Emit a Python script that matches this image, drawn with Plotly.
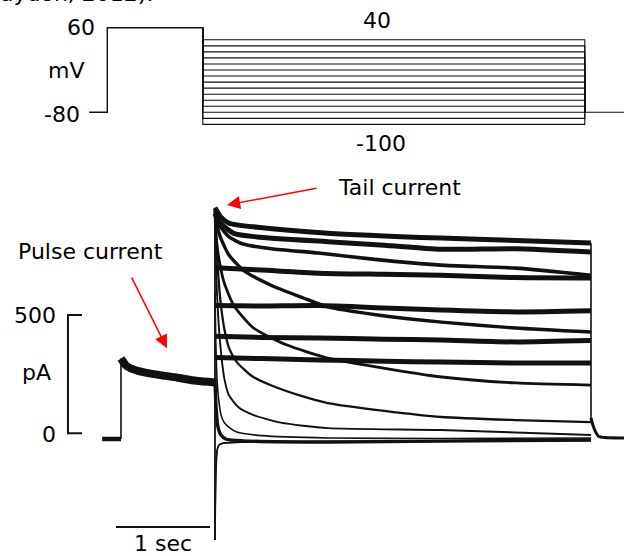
import plotly.graph_objects as go

# ---------------- data ----------------
# voltage protocol (top): prepulse then 15 test steps
step_voltages = [40, 30, 20, 10, 0, -10, -20, -30, -40, -50, -60, -70, -80, -90, -100]
hold_v = -80
prepulse_v = 60
t_hold_start = -0.19
t_pulse_on = 0.0
t_pulse_off = 1.0
t_step_off = 5.0
t_end = 5.5

# current (bottom): holding current before the pulse, then pulse current
hold_t = [-0.2, 0.0]
hold_i = [-24, -24]
pulse_t = [0.0, 0.01, 0.05, 0.1, 0.2, 0.35, 0.6, 0.8, 1.0]
pulse_i = [316, 310, 288, 275, 262, 250, 235, 222, 215]

# tail currents (noisy, sustained)
noisy_t = [
    [1.0, 1.06, 1.15, 1.45, 2.2, 3.4, 4.2, 5.0],
    [1.0, 1.04, 1.2, 1.45, 2.2, 2.8, 3.4, 4.2, 5.0],
    [1.0, 1.5, 2.1, 2.8, 3.4, 4.2, 5.0],
    [1.0, 1.5, 2.1, 2.8, 3.4, 4.2, 5.0],
    [1.0, 1.5, 2.1, 2.8, 3.4, 4.2, 5.0],
    [1.0, 1.5, 2.1, 2.8, 3.4, 4.2, 5.0],
]
noisy_i = [
    [953, 915, 888, 871, 846, 825, 815, 804],
    [930, 895, 845, 830, 810, 795, 778, 780, 766],
    [700, 690, 677, 672, 668, 658, 656],
    [540, 538, 540, 530, 521, 513, 518],
    [410, 405, 403, 398, 394, 386, 392],
    [320, 316, 310, 305, 301, 297, 297],
]

# tail currents (deactivating)
decay_t = [
    [1.0, 1.05, 1.15, 1.3, 1.6, 2.1, 2.7, 3.4, 4.2, 5.0],
    [1.0, 1.04, 1.1, 1.15, 1.3, 1.59, 1.94, 2.2, 2.73, 3.41, 4.2, 5.0],
    [1.0, 1.02, 1.05, 1.095, 1.2, 1.41, 1.76, 2.2, 2.73, 3.41, 4.2, 5.0],
    [1.0, 1.02, 1.04, 1.063, 1.1, 1.15, 1.232, 1.4, 1.589, 1.9, 2.2, 2.8, 3.41, 4.2, 5.0],
    [1.0, 1.01, 1.025, 1.042, 1.07, 1.1, 1.147, 1.25, 1.41, 1.7, 2.2, 3.4, 5.0],
    [1.0, 1.008, 1.021, 1.04, 1.063, 1.095, 1.15, 1.232, 1.5, 2.2, 3.4, 5.0],
    [1.0, 1.01, 1.03, 1.063, 1.12, 1.3, 2.2, 3.4, 5.0],
    [1.0, 1.005, 1.012, 1.024, 1.042, 1.08, 1.147, 1.3, 2.2, 3.4, 5.0],
    [1.0, 1.006, 1.015, 1.03, 1.06, 1.15, 1.3, 2.2, 3.4, 5.0],
]
decay_i = [
    [945, 880, 830, 800, 780, 762, 735, 711, 698, 668],
    [940, 850, 790, 753, 690, 627, 572, 534, 500, 470, 445, 428],
    [930, 800, 720, 640, 540, 445, 374, 318, 280, 238, 213, 204],
    [900, 760, 640, 542, 440, 360, 301, 240, 204, 160, 128, 95, 69, 56, 47],
    [860, 700, 560, 445, 320, 230, 162, 110, 77, 45, 22, 14, -7],
    [600, 400, 234, 140, 80, 47, 25, 5, -10, -20, -22, -20],
    [230, 120, 30, -7, -25, -32, -37, -33, -28],
    [-451, -300, -150, -70, -48, -43, -40, -38, -37, -33, -30],
    [-380, -200, -100, -60, -45, -40, -37, -35, -32, -28],
]
decay_w = [3.6, 3.4, 2.8, 2.3, 1.9, 1.6, 3.4, 1.5, 1.5]

# after the test step (return to holding)
return_t = [5.0, 5.02, 5.05, 5.08, 5.15, 5.35, 5.5]
return_i = [65, 35, 5, -12, -18, -20, -20]

# scale bars
bar_current = 500   # pA
bar_time = 1.0      # s

# ---------------- figure ----------------
ink = "#111111"
fig = go.Figure()


def line(x, y, w, ax="x2", ay="y2", spline=False):
    ln = dict(color=ink, width=w)
    if spline:
        ln.update(shape="spline", smoothing=0.6)
    fig.add_trace(go.Scatter(x=x, y=y, mode="lines", line=ln, xaxis=ax, yaxis=ay,
                             hoverinfo="skip"))


# top: voltage protocol
line([t_hold_start, t_pulse_on, t_pulse_on, t_pulse_off],
     [hold_v, hold_v, prepulse_v, prepulse_v], 1.4, "x", "y")
for v in step_voltages:
    line([t_pulse_off, t_pulse_off, t_step_off, t_step_off],
         [prepulse_v, v, v, hold_v], 1.1, "x", "y")
line([t_step_off, t_end], [hold_v, hold_v], 1.1, "x", "y")

# bottom: currents
line(hold_t, hold_i, 4.5)
line([hold_t[-1], pulse_t[0]], [hold_i[-1], pulse_i[0]], 1.6)
line(pulse_t, pulse_i, 8, spline=True)

# capacitive transient at the step onset
all_start = [s[0] for s in noisy_i] + [s[0] for s in decay_i] + [pulse_i[-1]]
line([t_pulse_off, t_pulse_off], [min(all_start), max(all_start)], 1.8)
for tt, ii in zip(noisy_t, noisy_i):
    line(tt, ii, 5.0, spline=True)
for tt, ii, w in zip(decay_t, decay_i, decay_w):
    line(tt, ii, w, spline=True)

# drop at end of test step
end_vals = [s[-1] for s in noisy_i] + [s[-1] for s in decay_i]
line([t_step_off, t_step_off], [max(end_vals), return_i[0]], 1.6)
line(return_t, return_i, 3.0, spline=True)

# scale bars
bx, tick = -0.564, 0.149
line([bx + tick, bx, bx, bx + tick], [bar_current, bar_current, 0, 0], 2)
tb0, tby = -0.053, -396
line([tb0, tb0 + bar_time], [tby, tby], 2)

font = dict(family="DejaVu Sans", size=22, color="#000000")
ann = [
    # top labels
    dict(x=-0.11, y=60, xref="x", yref="y", text="60", xanchor="right", yanchor="middle"),
    dict(x=-0.43, y=-10, xref="x", yref="y", text="mV", xanchor="center", yanchor="middle"),
    dict(x=-0.27, y=-83, xref="x", yref="y", text="-80", xanchor="right", yanchor="middle"),
    dict(x=2.82, y=72.7, xref="x", yref="y", text="40", xanchor="center", yanchor="middle"),
    dict(x=2.87, y=-131.4, xref="x", yref="y", text="-100", xanchor="center", yanchor="middle"),
    # bottom labels
    dict(x=-0.67, y=500, xref="x2", yref="y2", text="500", xanchor="right", yanchor="middle"),
    dict(x=-0.899, y=259, xref="x2", yref="y2", text="pA", xanchor="center", yanchor="middle"),
    dict(x=-0.67, y=-7, xref="x2", yref="y2", text="0", xanchor="right", yanchor="middle"),
    dict(x=0.447, y=-464, xref="x2", yref="y2", text="1 sec", xanchor="center", yanchor="middle"),
    dict(x=-0.324, y=770, xref="x2", yref="y2", text="Pulse current", xanchor="center", yanchor="middle"),
    dict(x=2.968, y=1037, xref="x2", yref="y2", text="Tail current", xanchor="center", yanchor="middle"),
    dict(x=-0.004, y=1 - 8 / 556, xref="paper", yref="paper", text="aydon, 2012).",
         xanchor="left", yanchor="bottom"),
]
annotations = [dict(a, showarrow=False, font=font) for a in ann]
red = "#ff0000"
annotations += [
    dict(x=1.128, y=965, xref="x2", yref="y2", text="", showarrow=True,
         ax=91, ay=-17, arrowhead=2, arrowsize=1.75, arrowwidth=1.5, arrowcolor=red),
    dict(x=0.489, y=360, xref="x2", yref="y2", text="", showarrow=True,
         ax=-36, ay=-72, arrowhead=2, arrowsize=1.75, arrowwidth=1.5, arrowcolor=red),
]

hidden = dict(visible=False, showgrid=False, zeroline=False, fixedrange=True)
fig.update_layout(
    width=624, height=556, margin=dict(l=0, r=0, t=0, b=0),
    paper_bgcolor="white", plot_bgcolor="white", showlegend=False,
    xaxis=dict(hidden, domain=[0, 1], range=[-1.1236, 5.4105]),
    yaxis=dict(hidden, domain=[0, 1], range=[-814.2, 105.84]),
    xaxis2=dict(hidden, overlaying="x", range=[-1.287, 5.351]),
    yaxis2=dict(hidden, overlaying="y", range=[-518.6, 1831.4]),
    annotations=annotations,
)
fig.write_html("out.html")
